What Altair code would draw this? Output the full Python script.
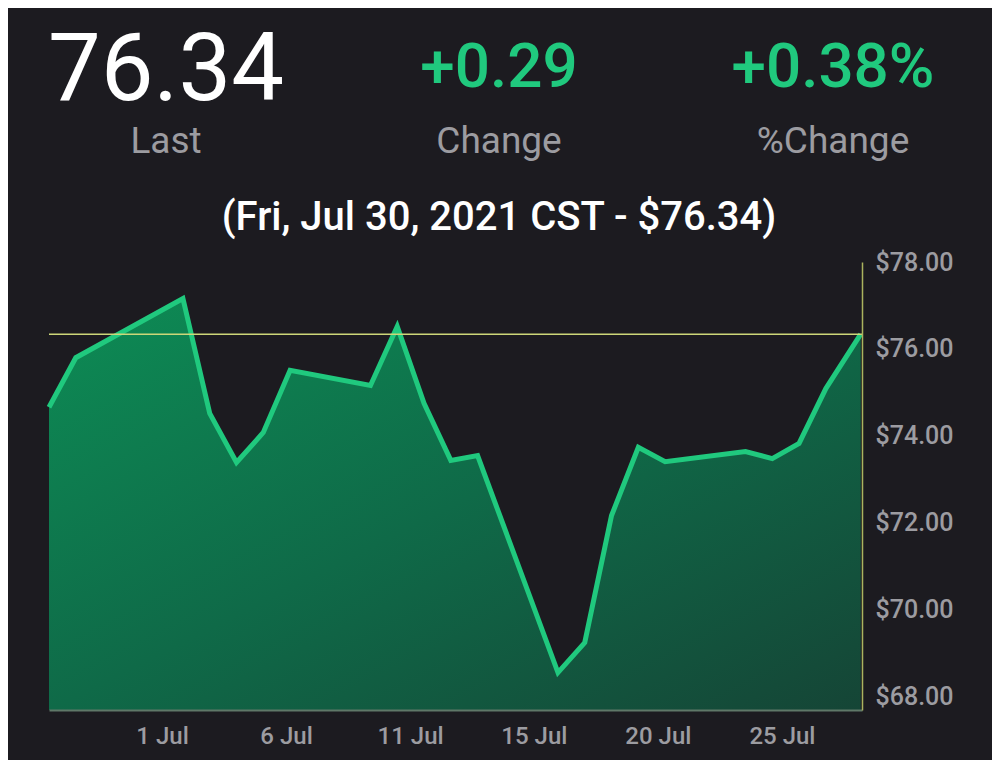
import altair as alt
import pandas as pd

# ---- data ----
dates = ["2021-06-30T00:00", "2021-07-01T00:00", "2021-07-05T00:00", "2021-07-06T00:00",
         "2021-07-07T00:00", "2021-07-08T00:00", "2021-07-09T00:00", "2021-07-12T00:00",
         "2021-07-13T00:00", "2021-07-14T00:00", "2021-07-15T00:00", "2021-07-16T00:00",
         "2021-07-19T00:00", "2021-07-20T00:00", "2021-07-21T00:00", "2021-07-22T00:00",
         "2021-07-23T00:00", "2021-07-26T00:00", "2021-07-27T00:00", "2021-07-28T00:00",
         "2021-07-29T00:00", "2021-07-30T07:15"]
prices = [74.66, 75.80, 77.16, 74.52, 73.39, 74.08, 75.51, 75.16, 76.52, 74.75,
          73.44, 73.55, 68.56, 69.25, 72.17, 73.74, 73.41, 73.64, 73.48, 73.83,
          75.09, 76.34]

tick_positions = [4.22, 8.85, 13.48, 18.10, 22.73, 27.36]
tick_labels = ["1 Jul", "6 Jul", "11 Jul", "15 Jul", "20 Jul", "25 Jul"]
y_ticks = [68, 70, 72, 74, 76, 78]

header_values = ["76.34", "+0.29", "+0.38%"]
header_names = ["Last", "Change", "%Change"]
subtitle = "(Fri, Jul 30, 2021 CST - $76.34)"
last_price = prices[-1]

# ---- build table ----
ts = pd.to_datetime(dates, format="%Y-%m-%dT%H:%M")
df = pd.DataFrame({
    "day": (ts - ts[0]) / pd.Timedelta(days=1),
    "price": prices,
})

BG = "#1c1b20"
GREEN = "#20c97e"
GREY = "#9c9ca1"
FONT = "Roboto"
Y_MIN, Y_MAX = 67.7, 78.0

label_expr = "{}[indexof({}, datum.value)]".format(
    "[" + ",".join("'%s'" % t for t in tick_labels) + "]",
    "[" + ",".join(repr(v) for v in tick_positions) + "]",
)

x = alt.X("day:Q",
          scale=alt.Scale(domain=[0, 30.35], nice=False, zero=False),
          axis=alt.Axis(values=tick_positions, labelExpr=label_expr, title=None,
                        grid=False, ticks=False, tickSize=0, labelPadding=33,
                        labelBaseline="alphabetic", labelFlush=False,
                        labelFont=FONT, labelFontSize=24, labelFontWeight=500,
                        labelColor=GREY, domainColor="#5f7868", domainWidth=2,
                        zindex=1))
y = alt.Y("price:Q",
          scale=alt.Scale(domain=[Y_MIN, Y_MAX], nice=False, zero=False),
          axis=alt.Axis(orient="right", values=y_ticks, format="$.2f", title=None,
                        grid=False, ticks=False, tickSize=0, labelPadding=13,
                        labelFlush=False, labelFont=FONT, labelFontSize=25,
                        labelFontWeight=500, labelColor=GREY,
                        domainColor="#aab35e", domainWidth=1.5, zindex=1))

base = alt.Chart(df)

area = base.mark_area(
    clip=True,
    color=alt.Gradient(
        gradient="linear",
        stops=[alt.GradientStop(color="#0d8c55", offset=0),
               alt.GradientStop(color="#0f6a48", offset=0.5),
               alt.GradientStop(color="#154536", offset=1)],
        x1=0, y1=0, x2=1, y2=1,
    )
).encode(x=x, y=y, y2=alt.datum(Y_MIN))

line = base.mark_line(color=GREEN, strokeWidth=5, strokeJoin="miter").encode(x="day:Q", y="price:Q")

rule = alt.Chart(pd.DataFrame({"p": [last_price]})).mark_rule(
    color="#cdd779", strokeWidth=1.5
).encode(y="p:Q")


def txt(s, xpos, ypos, size, color, weight="normal"):
    return alt.Chart(pd.DataFrame({"t": [s]})).mark_text(
        font=FONT, fontSize=size, color=color, fontWeight=weight,
        align="center", baseline="alphabetic"
    ).encode(text="t:N", x=alt.value(xpos), y=alt.value(ypos))


header_x = [117, 450, 784]
header_colors = ["#ffffff", GREEN, GREEN]
header_sizes = [94, 62, 62]
header_weights = ["normal", 500, 500]
header_y = [-162, -175, -175]
texts = []
for v, n, hx, hc, hs, hw, hy in zip(header_values, header_names, header_x,
                                    header_colors, header_sizes, header_weights, header_y):
    texts.append(txt(v, hx, hy, hs, hc, hw))
    texts.append(txt(n, hx, -109, 37, GREY))
texts.append(txt(subtitle, 450, -32, 40, "#ffffff", 500))

chart = alt.layer(area, line, rule, *texts).properties(
    width=813, height=448,
    padding={"left": 41, "top": 254, "right": 130, "bottom": 50},
    autosize=alt.AutoSizeParams(type="none"),
    background=BG,
).configure_view(stroke=None)

chart.save("out.html", embed_options={"renderer": "svg", "actions": False})
